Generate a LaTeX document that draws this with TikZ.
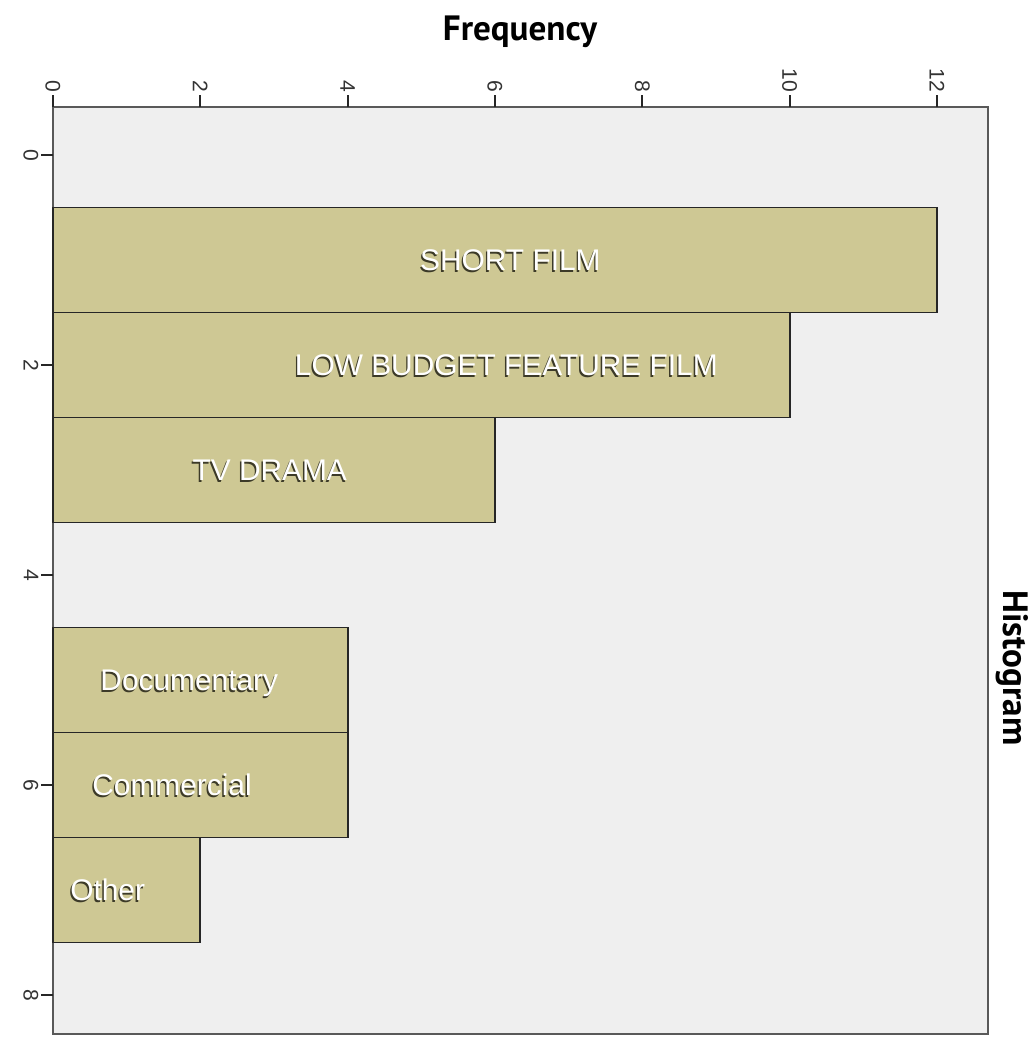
\documentclass[tikz,border=0pt]{standalone}
\usepackage{fontspec}
\setmainfont{Liberation Sans}
\newfontfamily\titlefont{PT Sans}

\definecolor{plotbg}{RGB}{239,239,239}
\definecolor{barfill}{RGB}{206,200,148}
\definecolor{shade}{RGB}{60,58,40}

\tikzset{
  bar/.style={draw=black!85, line width=1.1pt, fill=barfill},
  tick/.style={line width=1pt, black!85},
  ticklab/.style={rotate=-90, inner sep=1pt, font=\fontsize{12}{14}\selectfont, text=black!80},
  barlabel/.style={anchor=base west, inner sep=0pt, text=white, font=\fontsize{17}{20}\selectfont},
  barshadow/.style={barlabel, text=shade}
}

\begin{document}
\begin{tikzpicture}
\useasboundingbox (0,0) rectangle (20.7,-20.82);

% Titles
\node[anchor=base, font=\titlefont\bfseries\fontsize{20}{24}\selectfont] (freq) at (10.4,-0.82) {Frequency};
\node[rotate=-90, font=\titlefont\bfseries\fontsize{20}{24}\selectfont] (hist) at (20.25,-13.36) {Histogram};

\begin{scope}[shift={(1.06,-3.1)}, x=1.4733cm, y=-2.1cm]
% Plot area
\draw[black!65, line width=1pt, fill=plotbg] (0,-0.457) rectangle (12.69,8.37);

% Bars
\foreach \c/\f in {1/12,2/10,3/6,5/4,6/4,7/2} {
    \draw[bar] (0,\c-0.5) rectangle (\f,\c+0.5);
}

% Frequency axis
\foreach \f in {0,2,...,12} {
    \draw[tick] (\f,-0.457) -- (\f,-0.57);
    \node[ticklab, anchor=east] (xt\f) at (\f,-0.58) {\f};
}

% Category axis
\foreach \c in {0,2,...,8} {
    \draw[tick] (0,\c) -- (-0.163,\c);
    \node[ticklab, anchor=north] (yt\c) at (-0.17,\c) {\c};
}

% Bar labels
\foreach \c/\x/\t in {1/4.98/SHORT FILM, 2/3.28/LOW BUDGET FEATURE FILM, 3/1.89/TV DRAMA,
                      5/0.64/Documentary, 6/0.53/Commercial, 7/0.23/Other} {
    \node[barshadow, xshift=-0.8pt, yshift=-1pt] (s\c) at (\x,\c+0.1) {\t};
    \node[barlabel] (b\c) at (\x,\c+0.1) {\t};
}
\end{scope}
\end{tikzpicture}
\end{document}
